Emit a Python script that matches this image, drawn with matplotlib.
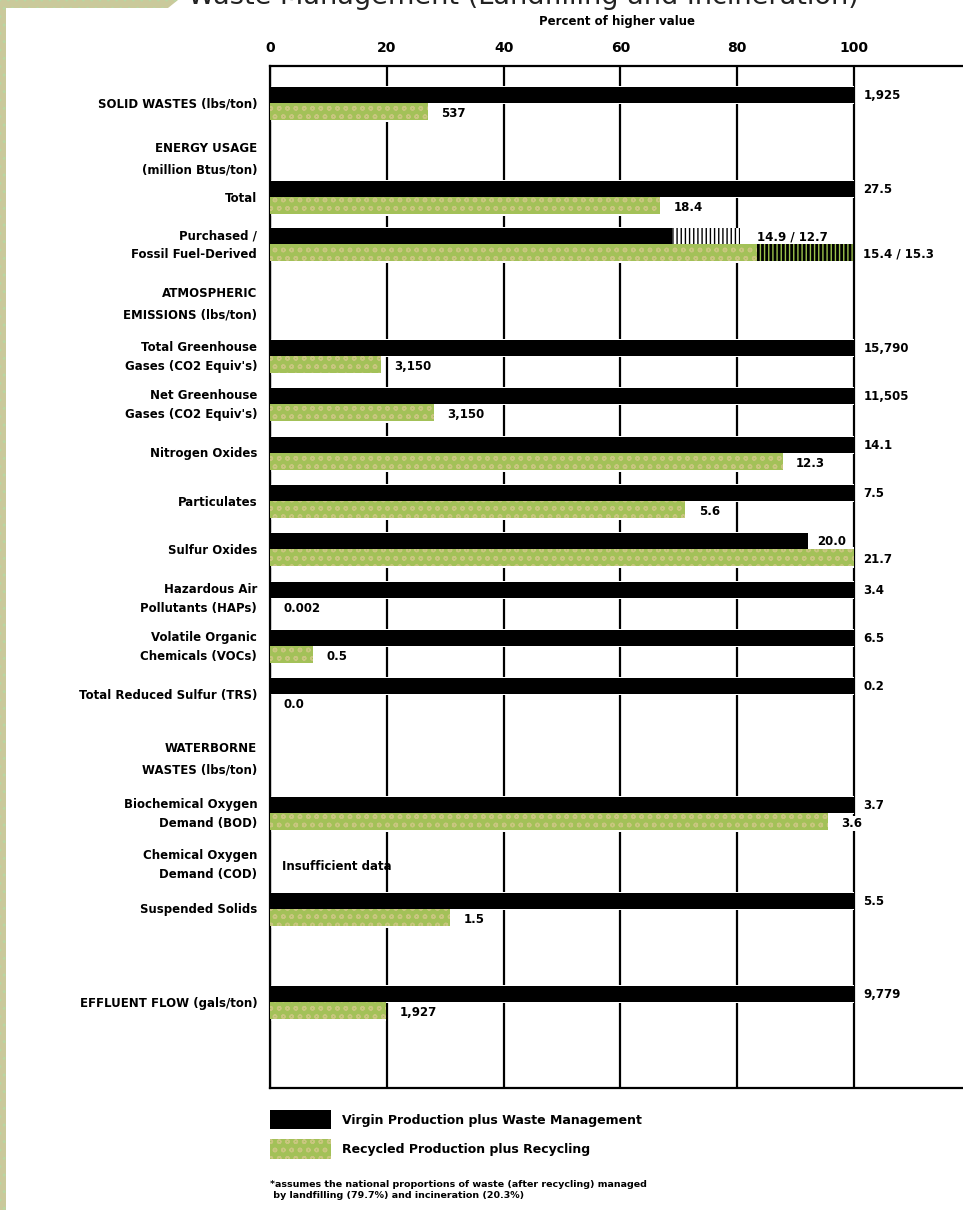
import matplotlib
matplotlib.use("Agg")
import matplotlib.pyplot as plt
from matplotlib.patches import Polygon

# rows that carry a pair of bars
row_names = ["SOLID WASTES (lbs/ton)", "Total", "Purchased /\nFossil Fuel-Derived",
             "Total Greenhouse\nGases (CO2 Equiv's)", "Net Greenhouse\nGases (CO2 Equiv's)",
             "Nitrogen Oxides", "Particulates", "Sulfur Oxides",
             "Hazardous Air\nPollutants (HAPs)", "Volatile Organic\nChemicals (VOCs)",
             "Total Reduced Sulfur (TRS)", "Biochemical Oxygen\nDemand (BOD)",
             "Suspended Solids", "EFFLUENT FLOW (gals/ton)"]
virgin_pct = [100, 100, 68.8, 100, 100, 100, 100, 92.1, 100, 100, 100, 100, 100, 100]
recycled_pct = [27.0, 66.8, 83.4, 19.0, 28.1, 87.8, 71.1, 100, 0, 7.4, 0, 95.5, 30.8, 19.9]
virgin_labels = ["1,925", "27.5", "14.9 / 12.7", "15,790", "11,505", "14.1", "7.5", "20.0",
                 "3.4", "6.5", "0.2", "3.7", "5.5", "9,779"]
recycled_labels = ["537", "18.4", "15.4 / 15.3", "3,150", "3,150", "12.3", "5.6", "21.7",
                   "0.002", "0.5", "0.0", "3.6", "1.5", "1,927"]
# fossil-fuel-derived part of the "Purchased" row ends here
virgin_fossil_pct = 80.5
recycled_fossil_pct = 100

# rows without bars
header_names = ["ENERGY USAGE\n(million Btus/ton)", "ATMOSPHERIC\nEMISSIONS (lbs/ton)",
                "WATERBORNE\nWASTES (lbs/ton)"]
cod_name = "Chemical Oxygen\nDemand (COD)"
cod_note = "Insufficient data"

ticks = [0, 20, 40, 60, 80, 100]
legend_names = ["Virgin Production plus Waste Management", "Recycled Production plus Recycling"]
footnote = ("*assumes the national proportions of waste (after recycling) managed\n"
            " by landfilling (79.7%) and incineration (20.3%)")

# layout (pixel rows from the top of the image)
W, H = 963, 1210
row_top = [87, 181, 228, 340, 388, 437, 485, 533, 582, 630, 678, 797, 893, 986]
header_y = [159, 304, 759]
cod_y = 865
BLACK_H, GREEN_H = 15.5, 17.5
GREEN = "#a3c158"
GREEN_DOTS = "#c9c67f"

plt.rcParams["font.family"] = ["DejaVu Sans"]
plt.rcParams["hatch.linewidth"] = 1.0


def fx(px):
    return px / W


def fy(py):
    return 1 - py / H


fig = plt.figure(figsize=(W / 100, H / 100), dpi=100)
ax = fig.add_axes([fx(270), fy(1088), fx(963) - fx(270), fy(66) - fy(1088)])
ax.set_xlim(0, 100 * (963 - 270) / (854 - 270))
ax.set_ylim(1088, 66)

# decorative khaki border at top-left
deco = dict(facecolor="#cac99b", edgecolor="#b9d6a2", hatch="..", lw=0, transform=fig.transFigure)
fig.patches.append(Polygon([(0, 1), (fx(6), 1), (fx(6), 0), (0, 0)], **deco))
fig.patches.append(Polygon([(0, 1), (fx(178), 1), (fx(168), fy(8)), (0, fy(8))], **deco))

black_y = [t + BLACK_H / 2 for t in row_top]
green_y = [t + BLACK_H + GREEN_H / 2 for t in row_top]

# white halos so gridlines stop short of the bars
ax.barh(black_y, virgin_pct, height=BLACK_H + 3, color="white", zorder=2)
ax.barh(green_y, recycled_pct, height=GREEN_H + 3, color="white", zorder=2)

black_bars = ax.barh(black_y, virgin_pct, height=BLACK_H, color="black", lw=0, zorder=3)
green_bars = ax.barh(green_y, recycled_pct, height=GREEN_H, color=GREEN, edgecolor=GREEN_DOTS,
                     hatch="oo", lw=0, zorder=3)

# purchased / fossil-fuel split
p = 2
ax.barh(black_y[p], virgin_fossil_pct - virgin_pct[p], left=virgin_pct[p], height=BLACK_H,
        color="white", edgecolor="black", hatch="||||", lw=0, zorder=3)
ax.barh(green_y[p], recycled_fossil_pct - recycled_pct[p], left=recycled_pct[p], height=GREEN_H,
        color="black", edgecolor="#9cc24c", hatch="||||", lw=0, zorder=3)

txt = dict(fontsize=8.5, fontweight="bold", va="center", zorder=5)
box = dict(facecolor="white", edgecolor="none", pad=0.6)
for i in range(len(row_names)):
    vx = virgin_fossil_pct + 2.9 if i == p else virgin_pct[i] + 1.6
    ax.text(vx, black_y[i] + 1, virgin_labels[i], ha="left", bbox=box, **txt)
    rx = recycled_pct[i] + (1.6 if recycled_pct[i] >= 100 else 2.3)
    if i == p:
        rx = recycled_fossil_pct + 1.6
    ax.text(rx, green_y[i] + 2, recycled_labels[i], ha="left", bbox=box, **txt)
    ax.text(-2.2, row_top[i] + 17, row_names[i], ha="right", fontsize=8.5, fontweight="bold",
            va="center", linespacing=1.55, clip_on=False)

for name, y in zip(header_names, header_y):
    ax.text(-2.2, y, name, ha="right", va="center", fontsize=8.5, fontweight="bold",
            linespacing=1.85, clip_on=False)
ax.text(-2.2, cod_y, cod_name, ha="right", va="center", fontsize=8.5, fontweight="bold",
        linespacing=1.55, clip_on=False)
ax.text(2.0, cod_y + 2, cod_note, ha="left", va="center", fontsize=8.5, fontweight="bold")

# axes, grid and ticks
ax.set_xticks(ticks)
ax.set_xticklabels([str(t) for t in ticks], fontsize=10, fontweight="bold")
ax.xaxis.tick_top()
ax.tick_params(axis="x", length=0, pad=8)
ax.set_yticks([])
ax.grid(axis="x", color="black", lw=1.6)
ax.set_axisbelow(True)
for side in ["left", "top", "bottom"]:
    ax.spines[side].set_linewidth(1.6)
ax.spines["right"].set_visible(False)

fig.text(fx(523), fy(4), "Waste Management (Landfilling and Incineration)", ha="center",
         va="baseline", fontsize=19.5, color="#222222")
fig.text(fx(617), fy(22), "Percent of higher value", ha="center", va="center",
         fontsize=8.5, fontweight="bold")

ax.legend([black_bars, green_bars], legend_names, loc="upper left",
          bbox_to_anchor=(fx(270), fy(1110)), bbox_transform=fig.transFigure,
          frameon=False, borderpad=0, borderaxespad=0, handlelength=4.9, handleheight=2.0,
          labelspacing=0.8, handletextpad=0.9, prop={"size": 9, "weight": "bold"})
fig.text(fx(270), fy(1180), footnote, ha="left", va="top", fontsize=6.8, fontweight="bold",
         linespacing=1.3)

fig.savefig("out.png", dpi=100)
